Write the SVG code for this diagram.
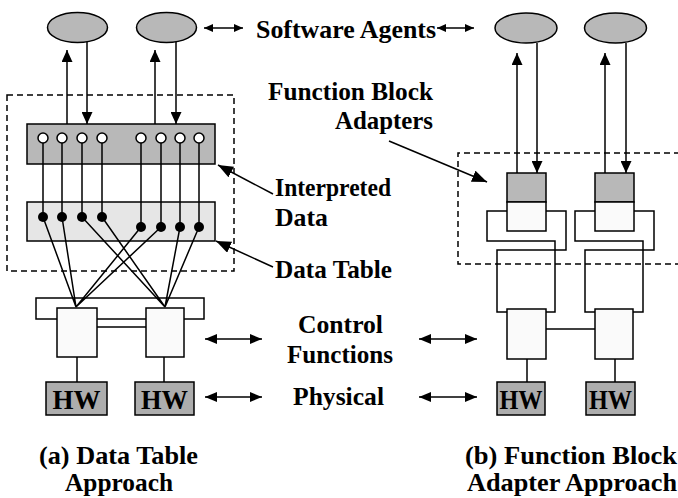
<svg xmlns="http://www.w3.org/2000/svg" width="678" height="498" viewBox="0 0 678 498">
<style>
.ln{stroke:#000;stroke-width:1.5;fill:none}
.dash{stroke:#000;stroke-width:1.5;fill:none;stroke-dasharray:6,4}
.dark{fill:#b8b8b8;stroke:#000;stroke-width:1.5}
.hw{fill:#adadad;stroke:#000;stroke-width:1.5}
.light{fill:#e6e6e6;stroke:#000;stroke-width:1.5}
.wht{fill:#fafafa;stroke:#000;stroke-width:1.5}
.t{font-family:"Liberation Serif","Times New Roman",serif;font-weight:bold;font-size:25px;fill:#000}
.h{font-family:"Liberation Serif","Times New Roman",serif;font-weight:bold;font-size:27px;fill:#000}
</style>
<defs>
<marker id="big" viewBox="0 0 12 11" refX="12" refY="5.5" markerWidth="12" markerHeight="11" markerUnits="userSpaceOnUse" orient="auto"><path d="M0,0 L12,5.5 L0,11 z" fill="#000"/></marker>
<marker id="sm" viewBox="0 0 9 8" refX="9" refY="4" markerWidth="9" markerHeight="8" markerUnits="userSpaceOnUse" orient="auto-start-reverse"><path d="M0,0 L9,4 L0,8 z" fill="#000"/></marker>
<marker id="md" viewBox="0 0 12 10" refX="12" refY="5" markerWidth="12" markerHeight="10" markerUnits="userSpaceOnUse" orient="auto-start-reverse"><path d="M0,0 L12,5 L0,10 z" fill="#000"/></marker>
<marker id="ptr" viewBox="0 0 15 12" refX="15" refY="6" markerWidth="15" markerHeight="12" markerUnits="userSpaceOnUse" orient="auto"><path d="M0,0 L15,6 L0,12 z" fill="#000"/></marker>
</defs>

<!-- dashed regions -->
<rect class="dash" x="7" y="95" width="227" height="176"/>
<path class="dash" d="M690,153 H458 V264 H690"/>

<!-- (a) left side nodes -->
<g id="agent1"><ellipse class="dark" cx="77.5" cy="27.5" rx="30" ry="15"/></g>
<g id="agent2"><ellipse class="dark" cx="166.5" cy="27.5" rx="30" ry="15"/></g>
<g id="interpreted-data">
<rect class="dark" x="27" y="124" width="188" height="40"/>
<g fill="#fff" stroke="#000" stroke-width="1.5">
<circle cx="43" cy="138" r="5"/><circle cx="62" cy="138" r="5"/><circle cx="82" cy="138" r="5"/><circle cx="102" cy="138" r="5"/>
<circle cx="141" cy="138" r="5"/><circle cx="161" cy="138" r="5"/><circle cx="180" cy="138" r="5"/><circle cx="199" cy="138" r="5"/>
</g>
</g>
<g id="data-table">
<rect class="light" x="27" y="202" width="188" height="39"/>
</g>
<g id="bus-a"><rect class="ln" x="36" y="298" width="168" height="21" fill="#fff"/></g>
<g id="cf-a1"><rect class="wht" x="57" y="308" width="40" height="49"/></g>
<g id="cf-a2"><rect class="wht" x="146" y="308" width="38" height="49"/></g>
<g id="hw-a1"><rect class="hw" x="46" y="382" width="61" height="33"/><text class="h" x="76.5" y="408.5" text-anchor="middle" textLength="48" lengthAdjust="spacingAndGlyphs">HW</text></g>
<g id="hw-a2"><rect class="hw" x="135" y="382" width="59" height="33"/><text class="h" x="164.5" y="408.5" text-anchor="middle" textLength="47" lengthAdjust="spacingAndGlyphs">HW</text></g>

<!-- (b) right side nodes -->
<g id="agent3"><ellipse class="dark" cx="526" cy="28" rx="31" ry="15"/></g>
<g id="agent4"><ellipse class="dark" cx="615.5" cy="28" rx="31" ry="15"/></g>
<g id="adapter1"><rect class="dark" x="507" y="173" width="39" height="29"/><rect class="wht" x="507" y="202" width="39" height="29"/></g>
<g id="adapter2"><rect class="dark" x="595" y="173" width="39" height="29"/><rect class="wht" x="595" y="202" width="39" height="29"/></g>
<g id="cf-b1"><rect class="wht" x="507" y="309" width="39" height="50"/></g>
<g id="cf-b2"><rect class="wht" x="595" y="309" width="38" height="50"/></g>
<g id="hw-b1"><rect class="hw" x="497" y="382" width="48" height="33"/><text class="h" x="521" y="408.5" text-anchor="middle" textLength="43" lengthAdjust="spacingAndGlyphs">HW</text></g>
<g id="hw-b2"><rect class="hw" x="586" y="382" width="49" height="33"/><text class="h" x="610.5" y="408.5" text-anchor="middle" textLength="43" lengthAdjust="spacingAndGlyphs">HW</text></g>

<!-- connectors -->
<g id="connectors">
<line class="ln" x1="67" y1="124" x2="67" y2="50" marker-end="url(#big)"/>
<line class="ln" x1="87" y1="42" x2="87" y2="124" marker-end="url(#big)"/>
<line class="ln" x1="155" y1="124" x2="155" y2="50" marker-end="url(#big)"/>
<line class="ln" x1="176" y1="42" x2="176" y2="124" marker-end="url(#big)"/>
<path class="ln" d="M43,143V217M62,143V217M82,143V217M102,143V217M141,143V227M161,143V227M180,143V227M199,143V227"/>
<path class="ln" stroke-width="1.2" d="M43,217L76,307M62,217L76,307M141,227L76,307M161,227L76,307M82,217L165,307M102,217L165,307M180,227L165,307M199,227L165,307"/>
<g fill="#000">
<circle cx="43" cy="217" r="5"/><circle cx="62" cy="217" r="5"/><circle cx="82" cy="217" r="5"/><circle cx="102" cy="217" r="5"/>
<circle cx="141" cy="227" r="5"/><circle cx="161" cy="227" r="5"/><circle cx="180" cy="227" r="5"/><circle cx="199" cy="227" r="5"/>
</g>
<line class="ln" x1="97" y1="327" x2="146" y2="327"/>
<line class="ln" x1="77" y1="357" x2="77" y2="382"/>
<line class="ln" x1="164" y1="357" x2="164" y2="382"/>

<line class="ln" x1="517" y1="173" x2="517" y2="53" marker-end="url(#big)"/>
<line class="ln" x1="537" y1="43" x2="537" y2="173" marker-end="url(#big)"/>
<line class="ln" x1="605" y1="173" x2="605" y2="53" marker-end="url(#big)"/>
<line class="ln" x1="626" y1="43" x2="626" y2="173" marker-end="url(#big)"/>
<path class="ln" d="M507,211H487V241H555V312H546"/>
<path class="ln" d="M546,211H566V250H497V312H507"/>
<path class="ln" d="M595,211H575V241H643V312H633"/>
<path class="ln" d="M634,211H654V250H585V312H595"/>
<line class="ln" x1="546" y1="329" x2="595" y2="329"/>
<line class="ln" x1="527" y1="359" x2="527" y2="382"/>
<line class="ln" x1="615" y1="359" x2="615" y2="382"/>

<line class="ln" x1="204" y1="28" x2="243" y2="28" marker-start="url(#sm)" marker-end="url(#sm)"/>
<line class="ln" x1="437" y1="28" x2="474" y2="28" marker-start="url(#sm)" marker-end="url(#sm)"/>
<line class="ln" x1="205" y1="339" x2="262" y2="339" marker-start="url(#md)" marker-end="url(#md)"/>
<line class="ln" x1="419" y1="339" x2="477" y2="339" marker-start="url(#md)" marker-end="url(#md)"/>
<line class="ln" x1="205" y1="397" x2="262" y2="397" marker-start="url(#md)" marker-end="url(#md)"/>
<line class="ln" x1="419" y1="397" x2="477" y2="397" marker-start="url(#md)" marker-end="url(#md)"/>
<line class="ln" x1="273" y1="194" x2="218" y2="165" marker-end="url(#ptr)"/>
<line class="ln" x1="273" y1="267" x2="216" y2="241" marker-end="url(#ptr)"/>
<line class="ln" x1="389" y1="141" x2="487" y2="182" marker-end="url(#ptr)"/>
</g>

<!-- labels -->
<text class="t" x="256" y="38" textLength="180" lengthAdjust="spacingAndGlyphs">Software Agents</text>
<text class="t" x="268" y="100" textLength="165" lengthAdjust="spacingAndGlyphs">Function Block</text>
<text class="t" x="335" y="129" textLength="98" lengthAdjust="spacingAndGlyphs">Adapters</text>
<text class="t" x="275" y="196" textLength="116" lengthAdjust="spacingAndGlyphs">Interpreted</text>
<text class="t" x="275" y="226" textLength="53" lengthAdjust="spacingAndGlyphs">Data</text>
<text class="t" x="275" y="278" textLength="117" lengthAdjust="spacingAndGlyphs">Data Table</text>
<text class="t" x="298" y="333" textLength="85" lengthAdjust="spacingAndGlyphs">Control</text>
<text class="t" x="287" y="363" textLength="106" lengthAdjust="spacingAndGlyphs">Functions</text>
<text class="t" x="293" y="405" textLength="91" lengthAdjust="spacingAndGlyphs">Physical</text>
<text class="t" x="39" y="464" textLength="159" lengthAdjust="spacingAndGlyphs">(a) Data Table</text>
<text class="t" x="65" y="491" textLength="108" lengthAdjust="spacingAndGlyphs">Approach</text>
<text class="t" x="465" y="464" textLength="212" lengthAdjust="spacingAndGlyphs">(b) Function Block</text>
<text class="t" x="467" y="491" textLength="210" lengthAdjust="spacingAndGlyphs">Adapter Approach</text>
</svg>
